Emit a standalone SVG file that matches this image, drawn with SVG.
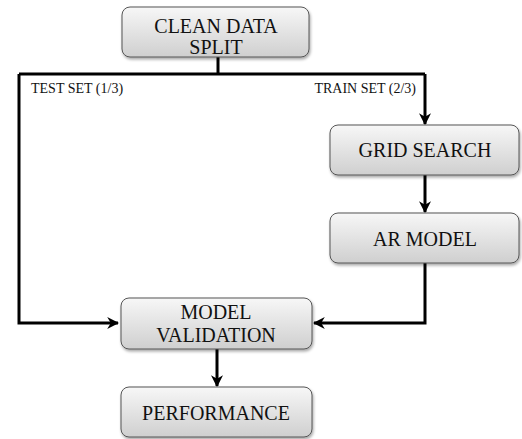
<svg xmlns="http://www.w3.org/2000/svg" width="522" height="439" viewBox="0 0 522 439">
  <defs>
    <linearGradient id="boxFill" x1="0" y1="0" x2="0" y2="1">
      <stop offset="0" stop-color="#f7f7f7"/>
      <stop offset="1" stop-color="#cfcfcf"/>
    </linearGradient>
    <filter id="shadow" x="-10%" y="-10%" width="125%" height="140%">
      <feGaussianBlur in="SourceAlpha" stdDeviation="1.5"/>
      <feOffset dx="1" dy="2" result="b"/>
      <feComponentTransfer><feFuncA type="linear" slope="0.35"/></feComponentTransfer>
      <feMerge><feMergeNode/><feMergeNode in="SourceGraphic"/></feMerge>
    </filter>
    <marker id="arrow" viewBox="0 0 10 10" refX="9" refY="5" markerWidth="4" markerHeight="4" orient="auto" markerUnits="strokeWidth">
      <path d="M0,0 L10,5 L0,10 L3,5 Z" fill="#000"/>
    </marker>
  </defs>
  <style>
    .box { fill: url(#boxFill); stroke: #555; stroke-width: 1; filter: url(#shadow); }
    .label { font-family: "Liberation Serif", "Times New Roman", serif; font-size: 20px; fill: #111; text-anchor: middle; }
    .small { font-family: "Liberation Serif", "Times New Roman", serif; font-size: 14px; fill: #111; }
    .wire { fill: none; stroke: #000; stroke-width: 3; }
  </style>

  <g id="connectors">
    <polyline class="wire" points="218,57 218,74"/>
    <polyline class="wire" points="19,74 425,74"/>
    <polyline class="wire" points="19,74 19,323 118,323" marker-end="url(#arrow)"/>
    <polyline class="wire" points="425,74 425,124" marker-end="url(#arrow)"/>
    <polyline class="wire" points="425,175 425,212" marker-end="url(#arrow)"/>
    <polyline class="wire" points="425,263 425,323 314,323" marker-end="url(#arrow)"/>
    <polyline class="wire" points="217,349 217,386" marker-end="url(#arrow)"/>
    <text class="small" x="31" y="93">TEST SET (1/3)</text>
    <text class="small" x="416" y="93" text-anchor="end">TRAIN SET (2/3)</text>
  </g>

  <g id="clean-data-split">
    <rect class="box" x="122" y="7" width="187" height="50" rx="8"/>
    <text class="label" x="216" y="33">CLEAN DATA</text>
    <text class="label" x="216" y="54">SPLIT</text>
  </g>

  <g id="grid-search">
    <rect class="box" x="330" y="125" width="189" height="50" rx="8"/>
    <text class="label" x="425" y="157">GRID SEARCH</text>
  </g>

  <g id="ar-model">
    <rect class="box" x="330" y="213" width="189" height="50" rx="8"/>
    <text class="label" x="425" y="246">AR MODEL</text>
  </g>

  <g id="model-validation">
    <rect class="box" x="121" y="298" width="191" height="51" rx="8"/>
    <text class="label" x="216" y="319">MODEL</text>
    <text class="label" x="216" y="342">VALIDATION</text>
  </g>

  <g id="performance">
    <rect class="box" x="121" y="387" width="191" height="50" rx="8"/>
    <text class="label" x="216" y="420">PERFORMANCE</text>
  </g>
</svg>
